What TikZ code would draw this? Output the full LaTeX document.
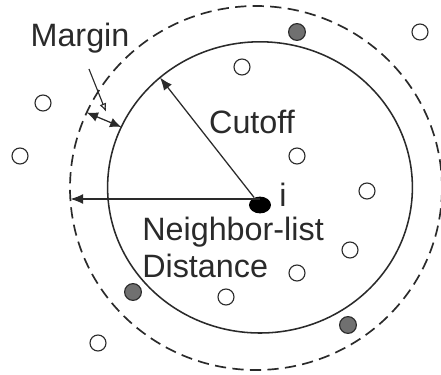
\documentclass[tikz,border=0pt]{standalone}
\usepackage{fontspec}
\setmainfont{Liberation Sans}
\usepackage{tikz}
\usetikzlibrary{arrows.meta,calc,positioning,shapes.geometric}
\definecolor{inkgray}{HTML}{2A2A2A}
\definecolor{atomgray}{HTML}{707070}
\tikzset{
  cutoffline/.style={inkgray,line width=1.1pt},
  skinline/.style={inkgray,line width=1.2pt,dash pattern=on 8pt off 4.5pt},
  pointer/.style={inkgray,line width=0.9pt,-{Latex[length=9pt,width=7pt]}},
  openatom/.style={circle,draw=inkgray,line width=0.8pt,fill=white,minimum size=0.4cm,inner sep=0pt},
  greyatom/.style={circle,draw=inkgray,line width=0.8pt,fill=atomgray,minimum size=0.42cm,inner sep=0pt},
  centeratom/.style={ellipse,fill=black,minimum width=0.55cm,minimum height=0.42cm,inner sep=0pt},
  lbl/.style={inkgray,font=\fontsize{23}{26.5}\selectfont,inner sep=0pt}
}

\begin{document}
\begin{tikzpicture}
\useasboundingbox (-6.5,-4.225) rectangle (4.525,5.125);
% cutoff sphere and neighbor-list sphere
\draw[cutoffline] (0,0.44) ellipse (3.81cm and 3.64cm);
\draw[skinline] (-0.1,0.425) ellipse (4.65cm and 4.55cm);
% atoms
\node[centeratom] (i) at (0,0) {};
\node[lbl,anchor=base] (ilabel) at (0.575,-0.025) {i};
\node[openatom] (a1) at (4.0,4.325) {};
\node[openatom] (a2) at (-0.45,3.45) {};
\node[openatom] (a3) at (-5.425,2.55) {};
\node[openatom] (a4) at (-6.0,1.225) {};
\node[openatom] (a5) at (0.925,1.225) {};
\node[openatom] (a6) at (2.675,0.35) {};
\node[openatom] (a7) at (2.25,-1.125) {};
\node[openatom] (a8) at (0.925,-1.7) {};
\node[openatom] (a9) at (-0.85,-2.3) {};
\node[openatom] (a10) at (-4.05,-3.45) {};
\node[greyatom] (g1) at (0.925,4.325) {};
\node[greyatom] (g2) at (-3.175,-2.175) {};
\node[greyatom] (g3) at (2.2,-3.0) {};
% radii
\coordinate (cutend) at ($(0,0.44)+(131:3.81cm and 3.64cm)$);
\coordinate (listend) at (-4.74,0.15);
\draw[pointer] (i) -- (cutend);
\draw[pointer] (listend -| i) -- (listend);
% margin
\coordinate (skinin) at ($(0,0.44)+(155.5:3.81cm and 3.64cm)$);
\coordinate (skinout) at ($(-0.1,0.425)+(155.5:4.65cm and 4.55cm)$);
\draw[pointer,{Latex[length=8pt,width=7pt]}-{Latex[length=8pt,width=7pt]}] (skinout) -- (skinin);
\node[lbl] (margin) at (-4.5,4.175) {Margin};
\coordinate (margintip) at ($(skinout)!0.5!(skinin)+(0.05,0.2)$);
\draw[inkgray,line width=0.8pt,-{Latex[length=6pt,width=5pt,open]}] (-4.275,3.4) -- (margintip);
% labels
\node[lbl] (cutoff) at (-0.2,2.075) {Cutoff};
\node[lbl,anchor=north west,align=left] (nlist) at (-2.95,-0.3) {Neighbor-list\\Distance};
\end{tikzpicture}
\end{document}
